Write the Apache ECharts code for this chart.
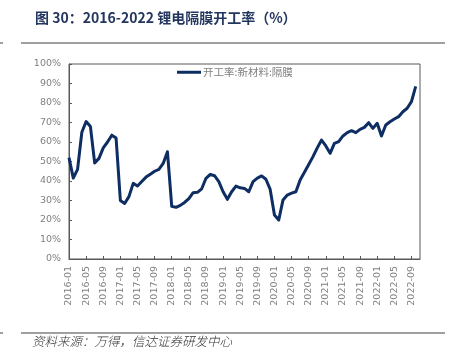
<!DOCTYPE html>
<html>
<head>
<meta charset="utf-8">
<script src="https://cdn.jsdelivr.net/npm/echarts@6/dist/echarts.min.js"></script>
<style>html,body{margin:0;padding:0;background:#fff;}#c{width:454px;height:360px;}</style>
</head>
<body>
<div id="c"></div>
<script>
// Months 2016-01 .. 2022-11 (axis); data through 2022-10
const categories = [];
for (let y = 2016; y <= 2022; y++) {
  for (let m = 1; m <= 12; m++) {
    if (y === 2022 && m > 11) break;
    categories.push(y + '-' + (m < 10 ? '0' + m : '' + m));
  }
}
const seriesName = '开工率:新材料:隔膜';
const utilization = [
  52, 41.5, 46, 65, 70.5, 68, 49.2, 51.6, 57, 60, 63.5, 62,
  30, 28.5, 32, 38.8, 37.4, 39.7, 42, 43.5, 45, 46, 49, 55,
  27, 26.5, 27.5, 29, 31, 34, 34.2, 36, 41.4, 43.4, 42.7, 39.7,
  34.5, 30.6, 34.5, 37.4, 36.5, 36.2, 34.5, 39.7, 41.5, 42.6, 40.9, 35.7,
  22.6, 20, 30.3, 32.8, 33.8, 34.5, 40.5, 44.5, 48.5, 52.5, 57, 61,
  58, 54.2, 59.3, 60.2, 63.1, 64.8, 65.8, 64.8, 66.5, 67.5, 69.9, 67,
  69.6, 63.1, 68.7, 70.4, 71.8, 73, 75.5, 77.3, 80.7, 88.5
];
const yTicks = [0, 10, 20, 30, 40, 50, 60, 70, 80, 90, 100];
const titleText = '图 30：2016-2022 锂电隔膜开工率（%）';
const sourceText = '资料来源：万得，信达证券研发中心';

const chart = echarts.init(document.getElementById('c'), null, {renderer: 'canvas'});
chart.setOption({
  backgroundColor: '#fff',
  animation: false,
  title: {
    text: titleText,
    left: 30, top: 6,
    textStyle: {fontFamily: 'Noto Sans CJK SC', fontSize: 14, fontWeight: 'bold', color: '#23365f'}
  },
  graphic: [
    {type: 'line', shape: {x1: 21, y1: 43, x2: 445, y2: 43}, style: {stroke: '#404040', lineWidth: 1}},
    {type: 'line', shape: {x1: 0, y1: 43, x2: 3, y2: 43}, style: {stroke: '#404040', lineWidth: 1}},
    {type: 'line', shape: {x1: 21, y1: 333, x2: 445, y2: 333}, style: {stroke: '#404040', lineWidth: 1}},
    {type: 'line', shape: {x1: 0, y1: 333, x2: 3, y2: 333}, style: {stroke: '#404040', lineWidth: 1}},
    {type: 'text', left: 32, top: 335,
     style: {text: sourceText, fontFamily: 'Noto Sans CJK SC', fontSize: 12.5, fontWeight: 300, fontStyle: 'italic', fill: '#333'}}
  ],
  legend: {
    top: 67, left: 177, padding: 0,
    itemWidth: 24, itemHeight: 10,
    icon: 'path://M0,4 L24,4 L24,7 L0,7 Z',
    textStyle: {fontFamily: 'Noto Sans CJK SC', fontSize: 10.5, color: '#808080', padding: [0, 0, 0, -3]},
    data: [seriesName]
  },
  grid: {left: 69, right: 34, top: 64, bottom: 101, show: true, borderColor: '#595959', borderWidth: 1},
  xAxis: {
    type: 'category',
    data: categories,
    boundaryGap: false,
    axisLine: {lineStyle: {color: '#595959', width: 1}},
    axisTick: {inside: true, length: 3, interval: 3, lineStyle: {color: '#595959'}},
    axisLabel: {interval: 3, rotate: 90, fontFamily: 'DejaVu Sans', fontSize: 9.5, color: '#808080', margin: 7},
    splitLine: {show: false}
  },
  yAxis: {
    type: 'value',
    min: yTicks[0], max: yTicks[yTicks.length - 1], interval: 10,
    axisLine: {show: true, lineStyle: {color: '#595959', width: 1}},
    axisTick: {show: true, inside: true, length: 3, lineStyle: {color: '#595959'}},
    axisLabel: {formatter: '{value}%', fontFamily: 'DejaVu Sans', fontSize: 9.5, color: '#808080', margin: 8},
    splitLine: {show: false}
  },
  series: [{
    name: seriesName,
    type: 'line',
    data: utilization,
    showSymbol: false,
    symbol: 'none',
    lineStyle: {color: '#0d2d63', width: 3, join: 'round'},
    itemStyle: {color: '#0d2d63'}
  }]
});
</script>
</body>
</html>
